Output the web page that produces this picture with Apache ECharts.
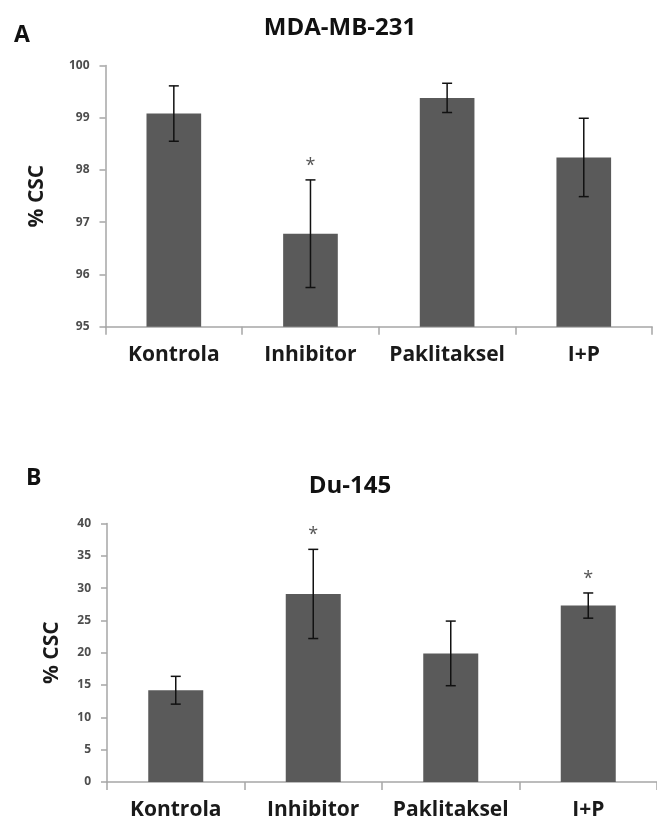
<!DOCTYPE html>
<html>
<head>
<meta charset="utf-8">
<script src="https://cdn.jsdelivr.net/npm/echarts@6/dist/echarts.min.js"></script>
<style>html,body{margin:0;padding:0;background:#fff}#c{width:657px;height:826px}</style>
</head>
<body>
<div id="c"></div>
<script>
var categories = ['Kontrola', 'Inhibitor', 'Paklitaksel', 'I+P'];
var titleA = 'MDA-MB-231';
var titleB = 'Du-145';
var valuesA = [99.08, 96.78, 99.38, 98.24];
var errorsA = [0.53, 1.03, 0.28, 0.75];
var starsA = [0, 1, 0, 0];
var valuesB = [14.2, 29.1, 19.9, 27.3];
var errorsB = [2.15, 6.9, 5.0, 1.95];
var starsB = [0, 1, 0, 1];

var chart = echarts.init(document.getElementById('c'), null, {renderer: 'canvas'});
var FONT = '"Open Sans", "Liberation Sans", sans-serif';
var barColor = '#5a5a5a';
var axisColor = '#a6a6a6';

function errData(vals, errs, stars) {
  return vals.map(function (v, i) { return [i, v, errs[i], stars[i]]; });
}
function renderErr(params, api) {
  var i = api.value(0), m = api.value(1), e = api.value(2), s = api.value(3);
  var top = api.coord([i, m + e]);
  var bot = api.coord([i, m - e]);
  var st = {stroke: '#111', lineWidth: 1.5};
  var children = [
    {type: 'line', shape: {x1: top[0], y1: top[1], x2: bot[0], y2: bot[1]}, style: st},
    {type: 'line', shape: {x1: top[0] - 5, y1: top[1], x2: top[0] + 5, y2: top[1]}, style: st},
    {type: 'line', shape: {x1: bot[0] - 5, y1: bot[1], x2: bot[0] + 5, y2: bot[1]}, style: st}
  ];
  if (s) {
    children.push({type: 'text', x: top[0], y: top[1] - 14,
      style: {text: '*', font: '18px ' + FONT, fill: '#555', align: 'center', verticalAlign: 'middle'}});
  }
  return {type: 'group', children: children};
}

function xAx(gi) {
  return {
    type: 'category', gridIndex: gi, data: categories,
    axisLine: {lineStyle: {color: axisColor, width: 1.5}},
    axisTick: {show: true, length: 8, lineStyle: {color: axisColor, width: 1.5}},
    axisLabel: {interval: 0, hideOverlap: false, color: '#1a1a1a', fontFamily: FONT, fontSize: 21, fontWeight: 'bold', margin: 18}
  };
}
function yAx(gi, min, max, interval, gap) {
  return {
    type: 'value', gridIndex: gi, min: min, max: max, interval: interval,
    name: '% CSC', nameLocation: 'middle', nameGap: gap,
    nameTextStyle: {color: '#1a1a1a', fontFamily: FONT, fontSize: 21, fontWeight: 'bold'},
    splitLine: {show: false},
    axisLine: {show: true, lineStyle: {color: axisColor, width: 1.5}},
    axisTick: {show: true, length: 6, lineStyle: {color: axisColor, width: 1.5}},
    axisLabel: {color: '#4d4d4d', fontFamily: FONT, fontSize: 12, fontWeight: 'bold', margin: 16}
  };
}

chart.setOption({
  animation: false,
  backgroundColor: '#fff',
  title: [
    {text: 'A', left: 9, top: 19, textStyle: {fontFamily: FONT, fontSize: 23, fontWeight: 'bold', color: '#111'}},
    {text: titleA, left: 335, top: 11, textAlign: 'center', textStyle: {fontFamily: FONT, fontSize: 24, fontWeight: 'bold', color: '#111'}},
    {text: 'B', left: 21, top: 462, textStyle: {fontFamily: FONT, fontSize: 23, fontWeight: 'bold', color: '#111'}},
    {text: titleB, left: 345, top: 469, textAlign: 'center', textStyle: {fontFamily: FONT, fontSize: 24, fontWeight: 'bold', color: '#111'}}
  ],
  grid: [
    {left: 105.5, top: 65.5, width: 546.6, height: 261.2},
    {left: 107, top: 523.5, width: 557, height: 258.5}
  ],
  xAxis: [xAx(0), xAx(1)],
  yAxis: [yAx(0, 95, 100, 1, 58), yAx(1, 0, 40, 5, 44)],
  series: [
    {type: 'bar', xAxisIndex: 0, yAxisIndex: 0, data: valuesA, barWidth: '40%', itemStyle: {color: barColor}},
    {type: 'custom', xAxisIndex: 0, yAxisIndex: 0, data: errData(valuesA, errorsA, starsA), renderItem: renderErr, encode: {x: 0, y: 1}, z: 5},
    {type: 'bar', xAxisIndex: 1, yAxisIndex: 1, data: valuesB, barWidth: '40%', itemStyle: {color: barColor}},
    {type: 'custom', xAxisIndex: 1, yAxisIndex: 1, data: errData(valuesB, errorsB, starsB), renderItem: renderErr, encode: {x: 0, y: 1}, z: 5}
  ]
});
</script>
</body>
</html>
